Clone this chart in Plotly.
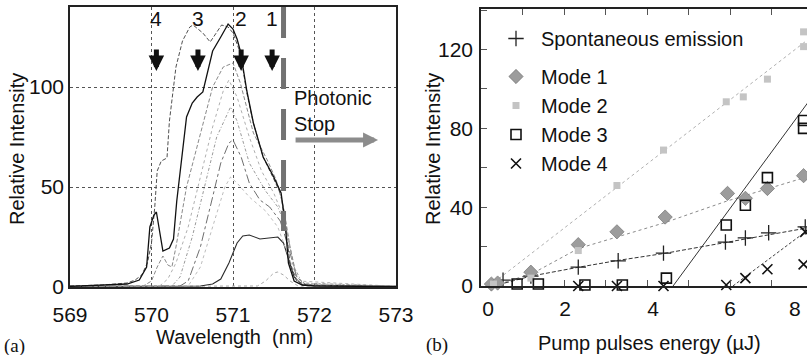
import plotly.graph_objects as go

W, H = 807, 355
SANS = "Liberation Sans, Arial, sans-serif"
SERIF = "Liberation Serif, Times New Roman, serif"

# ---------------- Panel (a): emission spectra ----------------
wl_outer = [569.0, 569.4, 569.7, 569.8, 569.88, 569.95, 570.0, 570.04, 570.07, 570.12, 570.19, 570.22,
            570.3, 570.38, 570.47, 570.51, 570.57, 570.63, 570.72, 570.8, 570.86, 570.94, 571.0, 571.09,
            571.17, 571.25, 571.37, 571.5, 571.59, 571.65, 571.7, 571.78, 571.9, 572.2, 573.0]
int_outer = [0.5, 1.0, 2.0, 3.5, 6.0, 12.0, 22.0, 40.0, 58.0, 63.0, 64.5, 83.0,
             110.0, 123.0, 130.0, 131.0, 129.0, 127.0, 122.5, 127.0, 131.0, 130.0, 127.0, 117.0,
             97.0, 82.0, 65.0, 54.0, 46.0, 28.0, 12.0, 3.0, 1.0, 0.5, 0.3]

wl_main = [569.0, 569.3, 569.7, 569.85, 569.94, 569.98, 570.03, 570.06, 570.1, 570.14, 570.22, 570.27,
           570.31, 570.37, 570.43, 570.5, 570.56, 570.63, 570.7, 570.75, 570.85, 570.94, 571.0, 571.05,
           571.09, 571.17, 571.25, 571.37, 571.5, 571.59, 571.64, 571.68, 571.75, 571.85, 572.0, 573.0]
int_main = [0.3, 0.8, 1.5, 3.5, 10.0, 30.0, 36.0, 37.5, 28.0, 18.0, 19.5, 24.0,
            43.0, 63.0, 85.0, 92.0, 95.0, 97.5, 110.0, 118.0, 125.0, 131.5, 129.0, 124.0,
            118.0, 98.0, 82.0, 65.0, 55.0, 47.0, 32.0, 12.0, 3.0, 1.0, 0.5, 0.2]

wl_s1 = [569.0, 569.9, 570.0, 570.07, 570.14, 570.2, 570.25, 570.3, 570.43, 570.6, 570.75, 570.88,
         571.0, 571.09, 571.25, 571.42, 571.53, 571.62, 571.7, 571.78, 571.9, 573.0]
int_s1 = [0.3, 0.5, 3.0, 10.0, 15.5, 11.0, 10.0, 20.0, 50.0, 77.0, 100.0, 110.0,
          112.0, 102.0, 77.0, 63.5, 53.5, 40.0, 20.0, 5.0, 1.0, 0.3]

wl_s2 = [569.0, 570.1, 570.2, 570.3, 570.45, 570.6, 570.75, 570.88, 570.95, 571.05, 571.2, 571.35,
         571.5, 571.62, 571.7, 571.8, 573.0]
int_s2 = [0.3, 0.5, 4.0, 12.0, 30.0, 55.0, 80.0, 98.0, 103.5, 95.0, 75.0, 58.0,
          47.0, 35.0, 18.0, 3.0, 0.3]

wl_s3 = [569.0, 570.25, 570.35, 570.5, 570.65, 570.8, 570.97, 571.05, 571.2, 571.4, 571.55, 571.65,
         571.75, 571.85, 573.0]
int_s3 = [0.3, 0.5, 5.0, 25.0, 50.0, 75.0, 90.0, 83.0, 62.0, 48.0, 40.0, 30.0, 10.0, 2.0, 0.3]

wl_s4 = [569.0, 570.35, 570.45, 570.6, 570.75, 570.85, 570.95, 571.0, 571.1, 571.2, 571.33, 571.45,
         571.58, 571.68, 571.78, 571.9, 573.0]
int_s4 = [0.3, 0.5, 3.0, 20.0, 45.0, 62.0, 72.0, 73.5, 65.0, 52.0, 43.5, 40.0,
          33.0, 20.0, 5.0, 1.0, 0.3]

wl_s5 = [569.0, 570.45, 570.6, 570.75, 570.9, 570.97, 571.05, 571.2, 571.4, 571.55, 571.68, 571.8, 573.0]
int_s5 = [0.3, 0.5, 10.0, 30.0, 50.0, 55.0, 52.0, 45.0, 38.0, 30.0, 15.0, 2.0, 0.3]

wl_s6 = [569.0, 570.6, 570.75, 570.85, 570.95, 571.05, 571.12, 571.2, 571.33, 571.45, 571.55, 571.62,
         571.68, 571.75, 571.85, 573.0]
int_s6 = [0.3, 0.5, 1.5, 4.0, 12.0, 22.0, 25.5, 26.0, 24.0, 24.5, 25.0, 22.0, 14.0, 5.0, 1.0, 0.3]

wl_s7 = [569.0, 571.3, 571.4, 571.5, 571.55, 571.62, 571.7, 571.8, 573.0]
int_s7 = [0.3, 0.5, 3.0, 7.0, 7.5, 6.0, 3.0, 0.5, 0.3]

mode_labels = ["4", "3", "2", "1"]
mode_wl = [570.06, 570.57, 571.10, 571.48]
stop_wl = 571.62

# ---------------- Panel (b): intensity vs pump energy ----------------
spont_x = [0.53, 1.2, 2.34, 3.3, 4.39, 5.88, 6.36, 6.92, 7.8]
spont_y = [3.0, 5.0, 9.6, 12.8, 16.7, 22.3, 24.4, 27.0, 30.0]
m1_x = [0.25, 0.4, 1.2, 2.34, 3.27, 4.43, 5.93, 6.36, 6.89, 7.76]
m1_y = [1.0, 1.5, 7.0, 21.0, 27.5, 35.0, 47.0, 44.5, 49.5, 56.0]
m2_x = [0.3, 1.2, 2.34, 3.27, 4.39, 5.9, 6.31, 6.89, 7.76, 7.76]
m2_y = [1.0, 4.0, 18.0, 51.0, 69.0, 93.5, 96.0, 105.0, 129.0, 121.5]
m3_x = [0.87, 1.38, 2.5, 3.4, 4.46, 5.9, 6.36, 6.89, 7.76, 7.76]
m3_y = [1.0, 1.0, 0.5, 0.5, 4.0, 31.0, 41.0, 55.0, 84.0, 80.0]
m4_x = [2.34, 3.27, 4.39, 5.9, 6.36, 6.89, 7.76, 7.8]
m4_y = [0.0, 0.0, 0.0, 0.5, 4.0, 8.5, 11.0, 27.5]

# fitted guide lines
spont_fit_x = [0.3, 1.2, 2.34, 3.3, 4.4, 5.9, 6.4, 6.9, 7.86]
spont_fit_y = [0.0, 5.0, 9.5, 13.0, 16.5, 22.0, 24.0, 26.0, 29.5]
m1_fit_x = [0.3, 1.25, 2.34, 3.3, 4.4, 5.9, 6.9, 7.86]
m1_fit_y = [0.0, 6.5, 19.0, 25.0, 32.0, 43.0, 49.5, 55.5]
m2_fit_x = [0.2, 7.86]
m2_fit_y = [0.0, 125.0]
m3_fit_x = [4.62, 7.86]
m3_fit_y = [0.0, 93.0]
m4_fit_x = [6.06, 7.86]
m4_fit_y = [0.0, 28.4]

b_xticks = [0, 1, 2, 3, 4, 5, 6, 7, 8]
b_label_text = ["0", "2", "4", "6", "8"]
b_label_pos = [0.17, 2.02, 4.14, 5.99, 7.55]

fig = go.Figure()

spectra = [
    (wl_s7, int_s7, "#a8a8a8", "dot", 1),
    (wl_s6, int_s6, "#2a2a2a", "solid", 1.1),
    (wl_s5, int_s5, "#bdbdbd", "dot", 1),
    (wl_s4, int_s4, "#6e6e6e", "dashdot", 1),
    (wl_s3, int_s3, "#9a9a9a", "3px,2px,1px,2px", 1),
    (wl_s2, int_s2, "#b0b0b0", "dot", 1),
    (wl_s1, int_s1, "#8a8a8a", "4px,2px", 1),
    (wl_outer, int_outer, "#505050", "4px,2px", 1),
    (wl_main, int_main, "#111111", "solid", 1.3),
]
for wx, wy, col, dash, lw in spectra:
    fig.add_trace(go.Scatter(x=wx, y=wy, mode="lines", xaxis="x", yaxis="y",
                             line=dict(color=col, dash=dash, width=lw), showlegend=False))

# panel b fit lines
fits = [
    (m2_fit_x, m2_fit_y, "#b0b0b0", "dot"),
    (m1_fit_x, m1_fit_y, "#8a8a8a", "dot"),
    (spont_fit_x, spont_fit_y, "#333333", "4px,2px"),
    (m3_fit_x, m3_fit_y, "#333333", "solid"),
    (m4_fit_x, m4_fit_y, "#444444", "3px,2px"),
]
for fx, fy, col, dash in fits:
    fig.add_trace(go.Scatter(x=fx, y=fy, mode="lines", xaxis="x2", yaxis="y2",
                             line=dict(color=col, dash=dash, width=1), showlegend=False))

markers = [
    ("Spontaneous emission", spont_x, spont_y, dict(symbol="cross-thin-open", size=11, color="#222",
                                                     line=dict(width=1.3, color="#222")), "s"),
    ("Mode 1", m1_x, m1_y, dict(symbol="diamond", size=11, color="#9c9c9c",
                                line=dict(width=0.6, color="#666")), "m"),
    ("Mode 2", m2_x, m2_y, dict(symbol="square", size=7, color="#c4c4c4",
                                line=dict(width=0)), "m"),
    ("Mode 3", m3_x, m3_y, dict(symbol="square-open", size=10, color="#111",
                                line=dict(width=1.6, color="#111")), "m"),
    ("Mode 4", m4_x, m4_y, dict(symbol="x-thin-open", size=10, color="#111",
                                line=dict(width=1.6, color="#111")), "m"),
]
for name, mx, my, mk, grp in markers:
    fig.add_trace(go.Scatter(x=mx, y=my, mode="markers", name=name, xaxis="x2", yaxis="y2",
                             marker=mk, legendgroup=grp, cliponaxis=False))

# dummy trace for label overlay axis
fig.add_trace(go.Scatter(x=[None], y=[None], xaxis="x3", yaxis="y2", showlegend=False,
                         hoverinfo="skip"))

ax_a_x = [70 / W, 396 / W]
ax_a_y = [1 - 287 / H, 1 - 7 / H]
ax_b_x = [481 / W, 1.0]
ax_b_y = [1 - 286 / H, 1 - 9 / H]
b_xmax = (W - 481) / 41.57

tickfont = dict(family=SANS, size=21, color="#111")

fig.update_layout(
    template="none",
    width=W, height=H, margin=dict(l=0, r=0, t=0, b=0, autoexpand=False),
    paper_bgcolor="white", plot_bgcolor="white",
    font=dict(family=SANS, color="#111"),
    xaxis=dict(domain=ax_a_x, range=[569, 573], anchor="y", tickmode="array",
               tickvals=[569, 570, 571, 572, 573], showgrid=True, gridcolor="#555",
               griddash="dot", gridwidth=1, showline=True, mirror=True, linecolor="#222",
               linewidth=1.6, ticks="", zeroline=False, tickfont=tickfont, ticklabelstandoff=8,
               automargin=False),
    yaxis=dict(domain=ax_a_y, range=[0, 140], anchor="x", tickmode="array",
               tickvals=[0, 50, 100], showgrid=True, gridcolor="#555", griddash="dot",
               gridwidth=1, showline=True, mirror=True, linecolor="#222", linewidth=1.6,
               ticks="", zeroline=False, tickfont=tickfont, ticklabelstandoff=0,
               automargin=False),
    xaxis2=dict(domain=ax_b_x, range=[0, b_xmax], anchor="y2", tickmode="array",
                tickvals=b_xticks, showticklabels=False, ticks="inside", ticklen=6,
                tickcolor="#555", showline=True, mirror="allticks", linecolor="#222",
                linewidth=1.5, showgrid=False, zeroline=False, automargin=False),
    xaxis3=dict(overlaying="x2", anchor="y2", side="bottom", range=[0, b_xmax],
                tickmode="array", tickvals=b_label_pos, ticktext=b_label_text,
                showline=False, showgrid=False, zeroline=False, ticks="",
                tickfont=tickfont, ticklabelstandoff=8, automargin=False),
    yaxis2=dict(domain=ax_b_y, range=[0, 140.6], anchor="x2", tickmode="array",
                tickvals=[0, 40, 80, 120], ticks="inside", ticklen=6, tickcolor="#555",
                minor=dict(tickvals=[20, 60, 100, 140], ticks="inside", ticklen=6,
                           tickcolor="#555"),
                showline=True, mirror=False, linecolor="#222", linewidth=1.5,
                showgrid=False, zeroline=False, tickfont=tickfont, ticklabelstandoff=2,
                automargin=False),
    legend=dict(x=491 / W, y=1 - 19 / H, xanchor="left", yanchor="top",
                font=dict(family=SANS, size=20, color="#111"), bgcolor="rgba(0,0,0,0)",
                itemwidth=40, traceorder="grouped", tracegroupgap=9, borderwidth=0),
    showlegend=True,
)

# photonic stop dashed bar
fig.add_shape(type="line", xref="x", yref="y", x0=stop_wl, x1=stop_wl, y0=140, y1=28,
              line=dict(color="#727272", width=5, dash="31px,20px"))

ann = []
for lab, wl in zip(mode_labels, mode_wl):
    ann.append(dict(x=wl, y=134, xref="x", yref="y", text=lab, showarrow=False,
                    xanchor="center", yanchor="middle",
                    font=dict(family=SANS, size=21, color="#111")))
    ann.append(dict(x=wl, y=108, xref="x", yref="y", text="", showarrow=True,
                    ax=0, ay=-23, arrowhead=2, arrowwidth=5, arrowsize=0.62,
                    arrowcolor="#111", standoff=0))
ann.append(dict(x=571.72, y=88, xref="x", yref="y", text="Photonic<br>Stop", showarrow=False,
                xanchor="left", yanchor="middle", align="left",
                font=dict(family=SANS, size=20, color="#111")))
ann.append(dict(x=572.78, y=73.5, xref="x", yref="y", text="", showarrow=True, ax=-84, ay=0,
                arrowhead=2, arrowwidth=5, arrowsize=0.6, arrowcolor="#8c8c8c", standoff=0))


def paper_text(px, py, text, size=20, family=SANS, angle=0):
    return dict(x=px / W, y=1 - py / H, xref="paper", yref="paper", text=text,
                textangle=angle, showarrow=False, xanchor="center", yanchor="middle",
                font=dict(family=family, size=size, color="#111"))


ann += [
    paper_text(17, 149, "Relative Intensity", angle=-90),
    paper_text(234, 337, "Wavelength&nbsp;&nbsp;(nm)"),
    paper_text(433, 149, "Relative Intensity", angle=-90),
    paper_text(649, 343, "Pump pulses energy (µJ)"),
    paper_text(14, 346, "(a)", size=19, family=SERIF),
    paper_text(437, 345, "(b)", size=19, family=SERIF),
]
fig.update_layout(annotations=ann)

fig.write_html("out.html")
